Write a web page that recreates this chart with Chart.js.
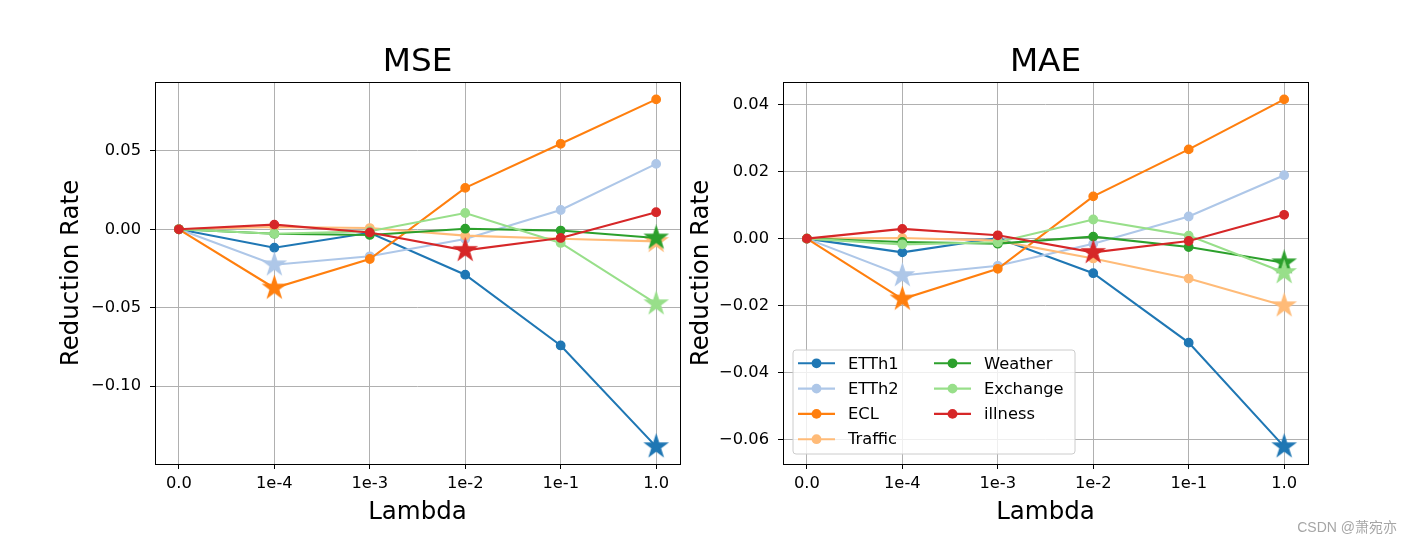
<!DOCTYPE html>
<html><head><meta charset="utf-8">
<script src="https://cdn.jsdelivr.net/npm/chart.js@4.4.1/dist/chart.umd.min.js"></script>
<style>
html,body{margin:0;padding:0;background:#fff;width:1411px;height:543px;overflow:hidden;}
#wrap{position:relative;width:1411px;height:543px;}
canvas{position:absolute;top:0;}
#c1{left:0;}
#c2{left:620px;}
#wm{position:absolute;right:14px;top:519px;line-height:16px;font-size:14px;font-family:"Liberation Sans","Noto Sans CJK SC",sans-serif;color:#a6a6a6;white-space:nowrap;}
</style></head><body>
<div id="wrap">
<canvas id="c1" width="705" height="543"></canvas>
<canvas id="c2" width="791" height="543"></canvas>
<div id="wm">CSDN @萧宛亦</div>
</div>
<script>
// ---------- data ----------
const categories = ['0.0', '1e-4', '1e-3', '1e-2', '1e-1', '1.0'];
const seriesNames = ['ETTh1', 'ETTh2', 'ECL', 'Traffic', 'Weather', 'Exchange', 'illness'];

const etth1Mse    = [0, -0.0117, -0.0022, -0.0289, -0.0740, -0.1385];
const etth2Mse    = [0, -0.0226, -0.0172, -0.0062,  0.0123,  0.0417];
const eclMse      = [0, -0.0374, -0.0189,  0.0264,  0.0545,  0.0828];
const trafficMse  = [0,  0.0015,  0.0008, -0.0040, -0.0060, -0.0077];
const weatherMse  = [0, -0.0028, -0.0036,  0.0004, -0.0008, -0.0055];
const exchangeMse = [0, -0.0028, -0.0012,  0.0104, -0.0087, -0.0474];
const illnessMse  = [0,  0.0030, -0.0020, -0.0134, -0.0055,  0.0109];

const etth1Mae    = [0, -0.0041,  0.0002, -0.0103, -0.0310, -0.0620];
const etth2Mae    = [0, -0.0110, -0.0081, -0.0015,  0.0066,  0.0189];
const eclMae      = [0, -0.0180, -0.0090,  0.0126,  0.0266,  0.0415];
const trafficMae  = [0,  0.0002, -0.0006, -0.0059, -0.0119, -0.0200];
const weatherMae  = [0, -0.0010, -0.0015,  0.0006, -0.0025, -0.0072];
const exchangeMae = [0, -0.0017, -0.0011,  0.0057,  0.0009, -0.0101];
const illnessMae  = [0,  0.0029,  0.0010, -0.0041, -0.0007,  0.0071];

const mseTicks = [-0.10, -0.05, 0.00, 0.05];
const maeTicks = [-0.06, -0.04, -0.02, 0.00, 0.02, 0.04];

// ---------- styles ----------
const colors = ['#1f77b4', '#aec7e8', '#ff7f0e', '#ffbb78', '#2ca02c', '#98df8a', '#d62728'];
const FONT = '"DejaVu Sans", sans-serif';
Chart.defaults.font.family = FONT;
Chart.defaults.color = '#000';

function makeStar(color, R) {
  const size = Math.ceil(R * 2 + 4);
  const c = document.createElement('canvas');
  c.width = size; c.height = size;
  const g = c.getContext('2d');
  const cx = size / 2, cy = size / 2, r = R * 0.381966;
  g.beginPath();
  for (let k = 0; k < 10; k++) {
    const a = -Math.PI / 2 + k * Math.PI / 5;
    const rad = k % 2 === 0 ? R : r;
    const px = cx + rad * Math.cos(a), py = cy + rad * Math.sin(a);
    if (k === 0) g.moveTo(px, py); else g.lineTo(px, py);
  }
  g.closePath();
  g.fillStyle = color; g.fill();
  g.strokeStyle = color; g.lineWidth = 1.4; g.stroke();
  return c;
}
const stars = colors.map(c => makeStar(c, 11.2));

function buildDatasets(values) {
  return seriesNames.map((name, s) => {
    const vals = values[s];
    const minIdx = vals.indexOf(Math.min(...vals));
    return {
      label: name,
      data: vals.map((v, i) => ({x: i, y: v})),
      borderColor: colors[s],
      backgroundColor: colors[s],
      borderWidth: 2.1,
      pointRadius: 4.2,
      pointHoverRadius: 4.2,
      pointBorderWidth: 1.4,
      pointBackgroundColor: colors[s],
      pointBorderColor: colors[s],
      pointStyle: vals.map((v, i) => i === minIdx ? stars[s] : 'circle'),
      order: seriesNames.length - s,
      tension: 0,
      clip: false
    };
  });
}

function limits(values) {
  const all = values.flat();
  const mn = Math.min(...all), mx = Math.max(...all);
  const m = (mx - mn) * 0.05;
  return [mn - m, mx + m];
}

const framePlugin = {
  id: 'frame',
  afterDatasetsDraw(chart) {
    const {ctx, chartArea: a} = chart;
    ctx.save();
    ctx.strokeStyle = '#000';
    ctx.lineWidth = 1;
    const l = Math.round(a.left) + 0.5, t = Math.round(a.top) + 0.5;
    const r = Math.round(a.right) + 0.5, b = Math.round(a.bottom) + 0.5;
    ctx.strokeRect(l, t, r - l, b - t);
    ctx.restore();
  }
};

const legendPlugin = {
  id: 'insideLegend',
  afterDraw(chart, args, opts) {
    if (!opts.show) return;
    const {ctx, chartArea: a} = chart;
    const ds = chart.data.datasets;
    const fs = 16.3;
    const x0 = a.left + 10, y1 = a.bottom - 10;
    const w = 282, h = 104;
    const y0 = y1 - h;
    ctx.save();
    ctx.beginPath();
    ctx.roundRect(x0, y0, w, h, 3);
    ctx.fillStyle = 'rgba(255,255,255,0.8)';
    ctx.fill();
    ctx.strokeStyle = '#cccccc';
    ctx.lineWidth = 1;
    ctx.stroke();
    ctx.font = fs + 'px ' + FONT;
    ctx.textBaseline = 'middle';
    ctx.textAlign = 'left';
    const rows = 4;
    ds.forEach((d, i) => {
      const col = Math.floor(i / rows), row = i % rows;
      const lx = x0 + 5 + col * 136;
      const ly = y0 + 13.3 + row * 25.3;
      ctx.strokeStyle = d.borderColor;
      ctx.lineWidth = 2.1;
      ctx.beginPath();
      ctx.moveTo(lx, ly); ctx.lineTo(lx + 37, ly);
      ctx.stroke();
      ctx.beginPath();
      ctx.arc(lx + 18.5, ly, 4.9, 0, Math.PI * 2);
      ctx.fillStyle = d.borderColor;
      ctx.fill();
      ctx.fillStyle = '#000';
      ctx.fillText(d.label, lx + 50, ly + 1);
    });
    ctx.restore();
  }
};

function makeChart(canvasId, values, yTicks, titleText, geom) {
  const [yMin, yMax] = limits(values);
  return new Chart(document.getElementById(canvasId), {
    type: 'line',
    data: {datasets: buildDatasets(values)},
    plugins: [framePlugin, legendPlugin],
    options: {
      responsive: false,
      animation: false,
      devicePixelRatio: 1,
      events: [],
      layout: {padding: {left: 0, top: 0, right: geom.padRight, bottom: 0}},
      plugins: {
        legend: {display: false},
        tooltip: {enabled: false},
        insideLegend: {show: geom.legend},
        title: {
          display: true, text: titleText, fullSize: false, color: '#000',
          font: {size: 32.7, weight: 'normal', family: FONT, lineHeight: 1.2},
          padding: {top: 42.4, bottom: 0.4}
        }
      },
      scales: {
        x: {
          type: 'linear', min: -0.25, max: 5.25,
          afterFit: s => { s.height = 79; },
          afterBuildTicks: s => { s.ticks = categories.map((_, i) => ({value: i})); },
          ticks: {
            callback: v => categories[Math.round(v)],
            color: '#000', font: {size: 16.3}, padding: 5,
            maxRotation: 0, autoSkip: false
          },
          grid: {color: '#b0b0b0', lineWidth: 1, tickColor: '#000', tickLength: 5, tickWidth: 1},
          border: {display: false},
          title: {display: true, text: 'Lambda', color: '#000', font: {size: 24.5}, padding: {top: 0, bottom: 15.3}}
        },
        y: {
          type: 'linear', min: yMin, max: yMax,
          afterFit: s => { s.width = geom.yAxisWidth; },
          afterBuildTicks: s => { s.ticks = yTicks.map(v => ({value: v})); },
          ticks: {
            callback: v => (v < -1e-9 ? '\u2212' : '') + Math.abs(v).toFixed(2),
            color: '#000', font: {size: 16.3}, padding: 9
          },
          grid: {color: '#b0b0b0', lineWidth: 1, tickColor: '#000', tickLength: 5, tickWidth: 1},
          border: {display: false},
          title: {display: true, text: 'Reduction Rate', color: '#000', font: {size: 24.5}, padding: {top: geom.yTitlePad, bottom: 0}}
        }
      }
    }
  });
}

makeChart('c1',
  [etth1Mse, etth2Mse, eclMse, trafficMse, weatherMse, exchangeMse, illnessMse],
  mseTicks, 'MSE', {padRight: 25, yAxisWidth: 155, yTitlePad: 57.3, legend: false});

makeChart('c2',
  [etth1Mae, etth2Mae, eclMae, trafficMae, weatherMae, exchangeMae, illnessMae],
  maeTicks, 'MAE', {padRight: 103, yAxisWidth: 163, yTitlePad: 67.3, legend: true});
</script>
</body></html>
